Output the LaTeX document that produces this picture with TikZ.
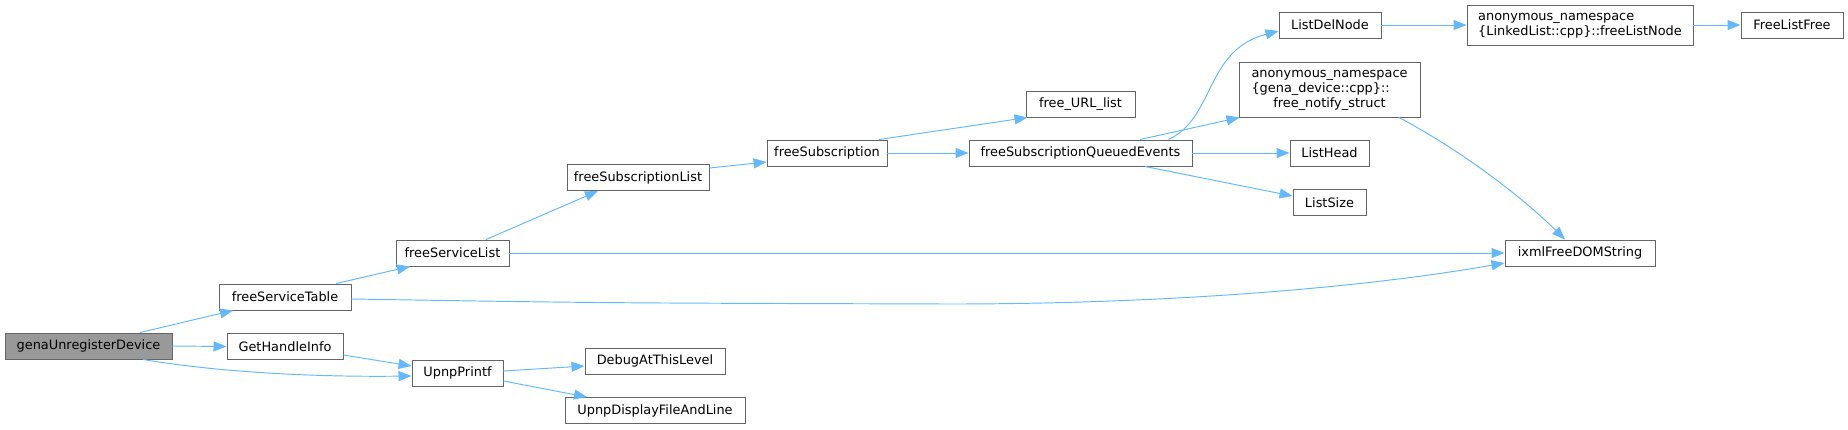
\documentclass[tikz,border=0pt]{standalone}
\usepackage{fontspec}
\setmainfont{DejaVu Sans}
\usetikzlibrary{arrows.meta,calc}
\definecolor{edgec}{HTML}{63B8FF}
\definecolor{bordc}{HTML}{666666}
\definecolor{grayf}{HTML}{999999}
\tikzset{
  fn/.style={draw=bordc,line width=0.95pt,fill=white,rectangle,inner sep=0pt,minimum height=26pt,
    font=\fontsize{12.9}{14.7}\selectfont,text=black},
  cur/.style={fn,fill=grayf},
  call/.style={draw=edgec,line width=0.95pt,-{Triangle[length=13pt,width=10pt]}}
}
\begin{document}
\begin{tikzpicture}[x=1pt,y=-1pt]
\useasboundingbox (0,0) rectangle (1848,429);
\node[cur,minimum width=167pt] (gena) at (88.5,346) {genaUnregisterDevice};
\node[fn,minimum width=132pt] (fST) at (285,297) {freeServiceTable};
\node[fn,minimum width=116pt] (GHI) at (285,346.5) {GetHandleInfo};
\node[fn,minimum width=91pt] (UP) at (457.5,373) {UpnpPrintf};
\node[fn,minimum width=113pt] (fSL) at (452.5,253) {freeServiceList};
\node[fn,minimum width=142pt] (fSubL) at (638,177.5) {freeSubscriptionList};
\node[fn,minimum width=120pt] (fSub) at (827,153) {freeSubscription};
\node[fn,minimum width=109pt] (fURL) at (1080.5,104) {free\_URL\_list};
\node[fn,minimum width=223pt] (fSQE) at (1080.5,153) {freeSubscriptionQueuedEvents};
\node[fn,minimum width=102pt] (LDN) at (1330,25) {ListDelNode};
\node[fn,minimum width=181pt,minimum height=55pt] (gfns) at (1329.5,89.5)
  {\begin{tabular}{@{}l@{}}anonymous\_namespace\\\{gena\_device::cpp\}::\\\multicolumn{1}{@{}c@{}}{free\_notify\_struct}\end{tabular}};
\node[fn,minimum width=79pt] (LH) at (1329.5,153) {ListHead};
\node[fn,minimum width=73pt] (LS) at (1329.5,202.5) {ListSize};
\node[fn,minimum width=226pt,minimum height=40pt] (LLfln) at (1580,25)
  {\begin{tabular}{@{}l@{}}anonymous\_namespace\\\{LinkedList::cpp\}::freeListNode\end{tabular}};
\node[fn,minimum width=102pt] (FLF) at (1792,25) {FreeListFree};
\node[fn,minimum width=150pt] (ixml) at (1580,253) {ixmlFreeDOMString};
\node[fn,minimum width=140pt] (DATL) at (655,361) {DebugAtThisLevel};
\node[fn,minimum width=180pt] (UDFL) at (655,410.5) {UpnpDisplayFileAndLine};

\draw[call] ([xshift=51.5pt]gena.north) -- ([xshift=-52pt]fST.south);
\draw[call] (gena.east) -- (GHI.west);
\draw[call] ([xshift=54.5pt]gena.south) .. controls (230,374) and (330,377) .. ([yshift=-3pt]UP.west);
\draw[call] ([yshift=-8.5pt]GHI.east) -- ([yshift=7pt]UP.west);
\draw[call] ([xshift=51pt]fST.north) -- ([xshift=-42.5pt]fSL.south);
\draw[call] ([yshift=-2pt]fST.east) .. controls (600,303) .. (950,304) .. controls (1150,304) and (1350,290) .. ([yshift=-10pt]ixml.west);
\draw[call] ([xshift=33.5pt]fSL.north) -- ([xshift=-40pt]fSubL.south);
\draw[call] (fSL.east) -- (ixml.west);
\draw[call] ([yshift=9.5pt]fSubL.east) -- ([yshift=-9pt]fSub.west);
\draw[call] ([xshift=52pt]fSub.north) -- ([xshift=2pt]fURL.south west);
\draw[call] (fSub.east) -- (fSQE.west);
\draw[call] ([xshift=88pt]fSQE.north) .. controls (1215,118) and (1205,50) .. ([yshift=-6pt]LDN.west);
\draw[call] ([xshift=59.5pt]fSQE.north) -- ([xshift=1pt]gfns.south west);
\draw[call] (fSQE.east) -- (LH.west);
\draw[call] ([xshift=64.5pt]fSQE.south) -- ([yshift=6.5pt]LS.west);
\draw[call] (LDN.east) -- (LLfln.west);
\draw[call] (LLfln.east) -- (FLF.west);
\draw[call] ([xshift=69.5pt]gfns.south) .. controls (1460,150) and (1520,195) .. ([xshift=-15pt]ixml.north);
\draw[call] ([yshift=2pt]UP.east) -- ([yshift=-5pt]DATL.west);
\draw[call] ([yshift=-8pt]UP.east) -- ([xshift=-68pt]UDFL.north);
\end{tikzpicture}
\end{document}
